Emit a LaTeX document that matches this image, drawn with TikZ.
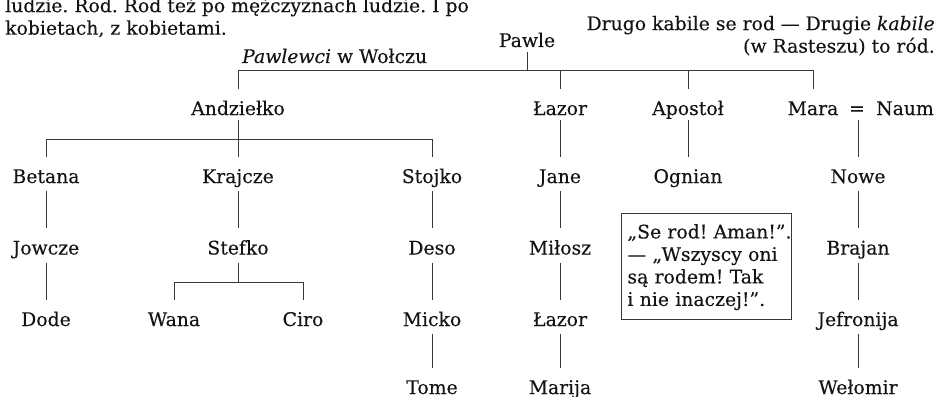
\documentclass[tikz,border=0pt]{standalone}
\usepackage{fontspec}
\setmainfont{DejaVu Serif}[FakeBold=0.25]
\frenchspacing
\begin{document}
\begin{tikzpicture}[x=1pt,y=-1pt,
  every node/.style={font=\fontsize{18.8}{22.5}\selectfont\frenchspacing, inner sep=0pt, text=black!92},
  nm/.style={anchor=base, text height=14pt, text depth=0pt},
  ln/.style={draw=black!78, line width=0.9pt},
  vln/.style={ln, shorten <=8pt, shorten >=12pt},
  vlnA/.style={ln, shorten <=5pt, shorten >=12pt}]
\useasboundingbox (0,0) rectangle (936,396);
\coordinate (b1) at (0,70);
\coordinate (b2) at (0,139);
\coordinate (b3) at (0,282);

% texts
\node[anchor=north west, align=left] (ludzie) at (5,-4)
  {\rule{0pt}{16pt}ludzie. Rod. Rod też po mężczyznach ludzie. I po\\ kobietach, z kobietami.};
\node[anchor=north east, align=right] (drugo) at (935,14)
  {\rule{0pt}{16pt}Drugo kabile se rod — Drugie \textit{kabile}\\ (w Rasteszu) to ród.};
\node[anchor=base west] (pawlewci) at (242,63) {\textit{Pawlewci} w Wołczu};

% people
\node[nm] (pawle) at (527,47) {Pawle};
\node[nm] (andz) at (238,115) {Andziełko};
\node[nm] (lazorA) at (560,115) {Łazor};
\node[nm] (apostol) at (688,115) {Apostoł};
\node[nm] (mara) at (813,115) {Mara};
\node[nm] (eq) at (857,115) {=};
\node[nm] (naum) at (905,115) {Naum};

\node[nm] (betana) at (46,183) {Betana};
\node[nm] (krajcze) at (238,183) {Krajcze};
\node[nm] (stojko) at (432,183) {Stojko};
\node[nm] (jane) at (560,183) {Jane};
\node[nm] (ognian) at (688,183) {Ognian};
\node[nm] (nowe) at (858,183) {Nowe};

\node[nm] (jowcze) at (46,254.5) {Jowcze};
\node[nm] (stefko) at (238,254.5) {Stefko};
\node[nm] (deso) at (432,254.5) {Deso};
\node[nm] (milosz) at (560,254.5) {Miłosz};
\node[nm] (brajan) at (858,254.5) {Brajan};

\node[nm] (dode) at (46,326) {Dode};
\node[nm] (wana) at (174,326) {Wana};
\node[nm] (ciro) at (303,326) {Ciro};
\node[nm] (micko) at (432,326) {Micko};
\node[nm] (lazorB) at (560,326) {Łazor};
\node[nm] (jefronija) at (858,326) {Jefronija};

\node[nm] (tome) at (432,394) {Tome};
\node[nm] (marija) at (560,394) {Marija};
\node[nm] (welomir) at (858,394) {Wełomir};

% quote box
\node[draw=black!78, line width=0.9pt, anchor=north west, inner xsep=6pt, inner ysep=9pt,
      text width=158pt, align=left] (quote) at (621,213)
  {\rule{0pt}{16pt}\mbox{„Se rod! Aman!”.}\\ \makebox[158pt][s]{— „Wszyscy oni}\\ \mbox{są rodem! Tak}\\ \mbox{i nie inaczej!”.}};

% connectors
\draw[ln, shorten <=5pt] (pawle.south) -- (pawle |- b1);
\draw[ln] (andz |- b1) -- (mara |- b1);
\foreach \n in {andz,lazorA,apostol,mara}
  \draw[ln, shorten >=12pt] (\n |- b1) -- (\n.north);

\draw[ln, shorten <=5pt] (andz.south) -- (andz |- b2);
\draw[ln] (betana |- b2) -- (stojko |- b2);
\foreach \n in {betana,krajcze,stojko}
  \draw[ln, shorten >=12pt] (\n |- b2) -- (\n.north);

\draw[vlnA] (lazorA.south) -- (jane.north);
\draw[vlnA] (apostol.south) -- (ognian.north);
\draw[vlnA] (nowe |- eq.south) -- (nowe.north);

\draw[vln] (betana.south) -- (jowcze.north);
\draw[vln] (krajcze.south) -- (stefko.north);
\draw[vln] (stojko.south) -- (deso.north);
\draw[vln] (jane.south) -- (milosz.north);
\draw[vln] (nowe.south) -- (brajan.north);

\draw[vln] (jowcze.south) -- (dode.north);
\draw[ln, shorten <=8pt] (stefko.south) -- (stefko |- b3);
\draw[ln] (wana |- b3) -- (ciro |- b3);
\foreach \n in {wana,ciro}
  \draw[ln, shorten >=12pt] (\n |- b3) -- (\n.north);
\draw[vln] (deso.south) -- (micko.north);
\draw[vln] (milosz.south) -- (lazorB.north);
\draw[vln] (brajan.south) -- (jefronija.north);

\draw[vln] (micko.south) -- (tome.north);
\draw[vln] (lazorB.south) -- (marija.north);
\draw[vln] (jefronija.south) -- (welomir.north);
\end{tikzpicture}
\end{document}
